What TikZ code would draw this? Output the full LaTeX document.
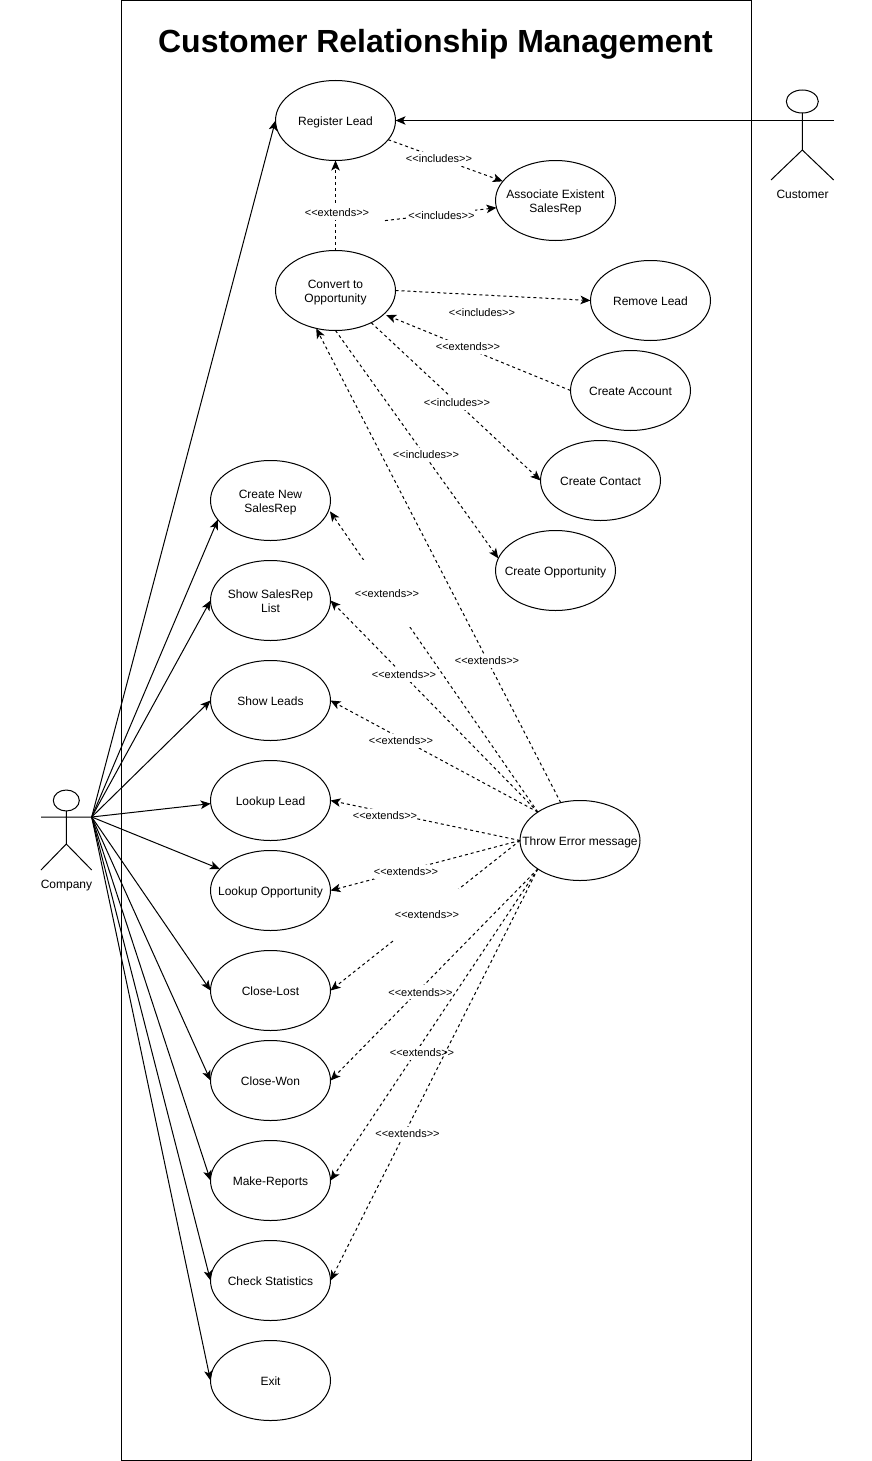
\documentclass[tikz,border=0pt]{standalone}
\usepackage{fontspec}
\setmainfont{Liberation Sans}
\usetikzlibrary{arrows.meta,shapes.geometric}
\newcommand{\incl}{<{}<includes>{}>}
\newcommand{\exts}{<{}<extends>{}>}
\newcommand{\uctext}[1]{\raisebox{0pt}[\dimexpr\height+3.5pt\relax][\depth]{\begin{tabular}{@{}c@{}}#1\end{tabular}}}
\tikzset{
  usecase/.style={draw=black,line width=1pt,fill=white,shape=ellipse,minimum width=120pt,minimum height=80pt,inner xsep=-30pt,inner ysep=0pt,outer sep=0pt,font=\fontsize{12}{14}\selectfont},
  assoc/.style={draw=black,line width=1pt,-{Stealth[length=10pt,width=8.5pt,inset=2.5pt]}},
  dep/.style={assoc,dash pattern=on 3pt off 3pt},
  lab/.style={fill=white,inner sep=0pt,outer sep=0pt,font=\fontsize{11}{13}\selectfont,minimum height=14pt},
  actortext/.style={inner sep=0pt,font=\fontsize{12}{14}\selectfont},
  limb/.style={draw=black,line width=1pt},
  head/.style={draw=black,line width=1pt,shape=ellipse,inner sep=0pt,outer sep=0pt}
}
\begin{document}
\begin{tikzpicture}[x=1pt,y=-1pt]
\useasboundingbox (0,0) rectangle (871,1461);
\fill[white] (0,0) rectangle (871,1461);
\draw[line width=1pt] (121.5,0.5) rectangle (751.5,1460.5);
\node[inner sep=0pt,font=\fontsize{32}{38}\selectfont\bfseries] (title) at (435.5,44.5) {Customer Relationship Management};

% use cases
\node[usecase] (register) at (335.5,120.5) {\uctext{Register Lead}};
\node[usecase] (associate) at (555.5,200.5) {\uctext{Associate Existent\\SalesRep}};
\node[usecase] (convert) at (335.5,290.5) {\uctext{Convert to\\Opportunity}};
\node[usecase] (remove) at (650.5,300.5) {\uctext{Remove Lead}};
\node[usecase] (account) at (630.5,390.5) {\uctext{Create Account}};
\node[usecase] (contact) at (600.5,480.5) {\uctext{Create Contact}};
\node[usecase] (opportunity) at (555.5,570.5) {\uctext{Create Opportunity}};
\node[usecase] (newrep) at (270.5,500.5) {\uctext{Create New\\SalesRep}};
\node[usecase] (showrep) at (270.5,600.5) {\uctext{Show SalesRep\\List}};
\node[usecase] (leads) at (270.5,700.5) {\uctext{Show Leads}};
\node[usecase] (lookuplead) at (270.5,800.5) {\uctext{Lookup Lead}};
\node[usecase] (lookupopp) at (270.5,890.5) {\uctext{Lookup Opportunity}};
\node[usecase] (lost) at (270.5,990.5) {\uctext{Close-Lost}};
\node[usecase] (won) at (270.5,1080.5) {\uctext{Close-Won}};
\node[usecase] (reports) at (270.5,1180.5) {\uctext{Make-Reports}};
\node[usecase] (stats) at (270.5,1280.5) {\uctext{Check Statistics}};
\node[usecase] (exit) at (270.5,1380.5) {\uctext{Exit}};
\node[usecase] (throw) at (580,840.5) {\uctext{Throw Error message}};

% actors
\node[head,minimum width=26pt,minimum height=21pt] (companyhead) at (66.3,800.5) {};
\coordinate (companyhip) at (66.3,844);
\coordinate (companyhand) at (91.7,817);
\coordinate (companylefthand) at (41,817);
\coordinate (companylfoot) at (41,870);
\coordinate (companyrfoot) at (91.7,870);
\draw[limb] (companyhead.south) -- (companyhip) (companylefthand) -- (companyhand) (companylfoot) -- (companyhip) -- (companyrfoot);
\node[actortext] (companylabel) at (66.5,885.5) {Company};

\node[head,minimum width=32pt,minimum height=23pt] (customerhead) at (802.3,101.5) {};
\coordinate (customerhip) at (802.3,150);
\coordinate (customerhand) at (833.7,120.5);
\coordinate (customerlfoot) at (771,180);
\coordinate (customerrfoot) at (833.7,180);
\draw[limb] (customerhead.south) -- (customerhip) (customerlfoot) -- (customerhip) -- (customerrfoot);
\node[actortext] (customerlabel) at (802.5,194) {Customer};

% associations
\draw[assoc] (customerhand) -- (register.east);
\draw[assoc] (companyhand) -- (register.west);
\draw[assoc] (companyhand) -- (newrep.200);
\draw[assoc] (companyhand) -- (showrep.west);
\draw[assoc] (companyhand) -- (leads.west);
\draw[assoc] (companyhand) -- (lookuplead.183);
\draw[assoc] (companyhand) -- (lookupopp.157);
\draw[assoc] (companyhand) -- (lost.west);
\draw[assoc] (companyhand) -- (won.west);
\draw[assoc] (companyhand) -- (reports.west);
\draw[assoc] (companyhand) -- (stats.west);
\draw[assoc] (companyhand) -- (exit.west);

% dependencies
\draw[dep] (register.-20) -- (associate.160);
\node[lab] (l1) at (439,159) {\incl};
\draw[dep] (convert.north) -- (register.south);
\node[lab] (l2) at (337,213) {\exts};
\coordinate (freestart) at (385,220.6);
\draw[dep] (freestart) -- (associate.187);
\node[lab] (l3) at (441.5,215.5) {\incl};
\draw[dep] (convert.east) -- (remove.west);
\node[lab] (l4) at (482,312.5) {\incl};
\draw[dep,shorten >=2.5pt] (account.west) -- (convert.-26);
\node[lab] (l5) at (468,347) {\exts};
\draw[dep] (convert.-42) -- (contact.west);
\node[lab] (l6) at (457,403) {\incl};
\draw[dep] (convert.south) -- (opportunity.168);
\node[lab] (l7) at (426,455) {\incl};
\draw[dep] (throw.117) -- (convert.243);
\node[lab] (l8) at (487,660.5) {\exts};
\draw[dep,shorten >=2pt] (throw.146) -- (newrep.-9);
\node[lab,minimum height=67pt] (l9) at (387,593.5) {\exts};
\draw[dep] (throw.146) -- (showrep.east);
\node[lab] (l10) at (404,674.5) {\exts};
\draw[dep] (throw.146) -- (leads.east);
\node[lab] (l11) at (401,740.5) {\exts};
\draw[dep] (throw.west) -- (lookuplead.east);
\node[lab] (l12) at (385,816) {\exts};
\draw[dep] (throw.west) -- (lookupopp.east);
\node[lab] (l13) at (406,871.5) {\exts};
\draw[dep] (throw.west) -- (lost.east);
\node[lab,minimum height=52pt] (l14) at (427,914.5) {\exts};
\draw[dep] (throw.214) -- (won.east);
\node[lab] (l15) at (420.5,992.3) {\exts};
\draw[dep] (throw.214) -- (reports.east);
\node[lab] (l16) at (422,1053) {\exts};
\draw[dep] (throw.214) -- (stats.east);
\node[lab] (l17) at (407.5,1134) {\exts};
\end{tikzpicture}
\end{document}
